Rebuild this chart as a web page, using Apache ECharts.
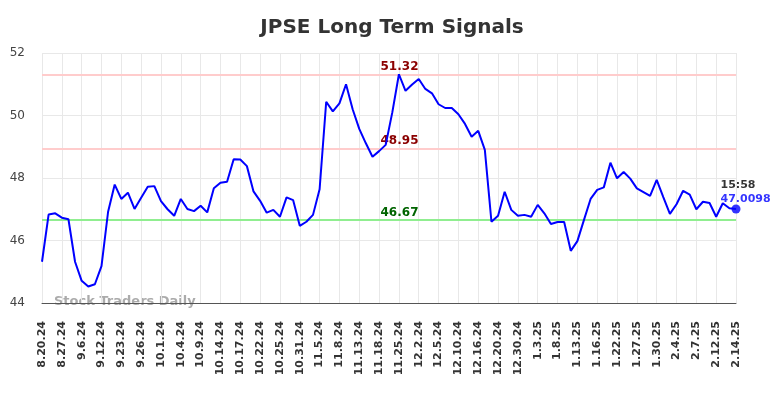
<!DOCTYPE html>
<html>
<head>
<meta charset="utf-8">
<script src="https://cdn.jsdelivr.net/npm/echarts@6/dist/echarts.min.js"></script>
<style>
    html, body { margin: 0; padding: 0; background: #fff; }
    #chart { width: 784px; height: 398px; }
</style>
</head>
<body>
<div id="chart"></div>
<script>
// dates (only every third one is shown on the axis)
var dates = [
    '8.20.24', '8.22.24', '8.23.24', '8.27.24', '8.29.24', '9.3.24',
    '9.6.24', '9.9.24', '9.10.24', '9.12.24', '9.16.24', '9.19.24',
    '9.23.24', '9.24.24', '9.25.24', '9.26.24', '9.27.24', '9.30.24',
    '10.1.24', '10.2.24', '10.3.24', '10.4.24', '10.7.24', '10.8.24',
    '10.9.24', '10.10.24', '10.11.24', '10.14.24', '10.15.24', '10.16.24',
    '10.17.24', '10.18.24', '10.21.24', '10.22.24', '10.23.24', '10.24.24',
    '10.25.24', '10.28.24', '10.29.24', '10.31.24', '11.1.24', '11.4.24',
    '11.5.24', '11.6.24', '11.7.24', '11.8.24', '11.11.24', '11.12.24',
    '11.13.24', '11.14.24', '11.15.24', '11.18.24', '11.19.24', '11.21.24',
    '11.25.24', '11.26.24', '11.27.24', '12.2.24', '12.3.24', '12.4.24',
    '12.5.24', '12.6.24', '12.9.24', '12.10.24', '12.11.24', '12.13.24',
    '12.16.24', '12.17.24', '12.19.24', '12.20.24', '12.23.24', '12.27.24',
    '12.30.24', '12.31.24', '1.2.25', '1.3.25', '1.6.25', '1.7.25',
    '1.8.25', '1.9.25', '1.10.25', '1.13.25', '1.14.25', '1.15.25',
    '1.16.25', '1.17.25', '1.21.25', '1.22.25', '1.23.25', '1.24.25',
    '1.27.25', '1.28.25', '1.29.25', '1.30.25', '1.31.25', '2.3.25',
    '2.4.25', '2.5.25', '2.6.25', '2.7.25', '2.10.25', '2.11.25',
    '2.12.25', '2.13.25', '2.13.25 pm', '2.14.25'
];

var prices = [
    45.32, 46.83, 46.87, 46.73, 46.68, 45.32, 44.71, 44.53, 44.60, 45.18,
    46.92, 47.79, 47.33, 47.53, 47.01, 47.37, 47.72, 47.74, 47.26, 47.00,
    46.79, 47.33, 47.01, 46.94, 47.11, 46.90, 47.67, 47.85, 47.88, 48.60,
    48.59, 48.38, 47.57, 47.27, 46.89, 46.98, 46.76, 47.38, 47.29, 46.47,
    46.60, 46.82, 47.64, 50.44, 50.13, 50.39, 51.00, 50.20, 49.57, 49.11,
    48.68, 48.86, 49.06, 50.10, 51.32, 50.79, 50.99, 51.17, 50.85, 50.71,
    50.36, 50.24, 50.24, 50.04, 49.73, 49.32, 49.51, 48.90, 46.60, 46.79,
    47.56, 46.98, 46.79, 46.82, 46.76, 47.14, 46.87, 46.53, 46.59, 46.59,
    45.67, 45.98, 46.66, 47.33, 47.62, 47.70, 48.49, 47.99, 48.19, 47.98,
    47.67, 47.55, 47.43, 47.94, 47.39, 46.85, 47.16, 47.59, 47.47, 47.00,
    47.24, 47.20, 46.76, 47.19, 47.03, 47.0098
];

// signal levels
var upperLevels = [51.32, 48.95];
var lowerLevels = [46.67];

var lastTime = '15:58';

window.onload = function () {
    var myChart = echarts.init(document.getElementById('chart'));
    var font = 'DejaVu Sans';
    var lastIdx = prices.length - 1;

    var levelLines = [];
    upperLevels.forEach(function (v) {
        levelLines.push({
            yAxis: v,
            lineStyle: { color: '#ffcccc', width: 2, type: 'solid' },
            label: { color: '#8b0000' }
        });
    });
    lowerLevels.forEach(function (v) {
        levelLines.push({
            yAxis: v,
            lineStyle: { color: '#90ee90', width: 2, type: 'solid' },
            label: { color: '#006400' }
        });
    });

    var option = {
        animation: false,
        textStyle: { fontFamily: font },
        title: {
            text: 'JPSE Long Term Signals',
            left: 'center',
            top: 13,
            textStyle: { fontFamily: font, fontSize: 20, fontWeight: 'bold', color: '#333' }
        },
        grid: { left: 42, right: 48, top: 53, bottom: 95 },
        graphic: [
            {
                type: 'text',
                left: 54,
                top: 295,
                style: {
                    text: 'Stock Traders Daily',
                    fontFamily: font,
                    fontSize: 13,
                    fontWeight: 'bold',
                    fill: 'rgba(150,150,150,0.8)'
                }
            }
        ],
        xAxis: {
            type: 'category',
            data: dates,
            boundaryGap: false,
            axisLine: { lineStyle: { color: '#555', width: 1 } },
            axisTick: { show: false },
            axisLabel: {
                interval: 2,
                rotate: 90,
                margin: 18,
                fontFamily: font,
                fontSize: 11,
                fontWeight: 'bold',
                color: '#333'
            },
            splitLine: { show: true, interval: 2, lineStyle: { color: '#e8e8e8', width: 1 } }
        },
        yAxis: {
            type: 'value',
            min: 44,
            max: 52,
            interval: 2,
            axisLine: { show: false },
            axisTick: { show: false },
            axisLabel: { fontFamily: font, fontSize: 12, color: '#444', margin: 17 },
            splitLine: { lineStyle: { color: '#e8e8e8', width: 1 } }
        },
        series: [
            {
                name: 'JPSE',
                type: 'line',
                data: prices,
                showSymbol: false,
                lineStyle: { color: '#0000ff', width: 2 },
                z: 3,
                markLine: {
                    silent: true,
                    symbol: 'none',
                    z: 2,
                    label: {
                        position: 'insideMiddleTop',
                        distance: 1,
                        padding: [0, 0, 0, 21],
                        fontFamily: font,
                        fontSize: 12,
                        fontWeight: 'bold',
                        formatter: function (p) { return p.value.toFixed(2); }
                    },
                    data: levelLines
                }
            },
            {
                name: 'last',
                type: 'scatter',
                data: [[lastIdx, prices[lastIdx]]],
                symbol: 'circle',
                symbolSize: 9,
                itemStyle: { color: '#0000ff' },
                z: 4,
                label: {
                    show: true,
                    position: [-11, -26],
                    align: 'left',
                    formatter: function () {
                        return '{t|' + lastTime + '}\n{v|' + prices[lastIdx] + '}';
                    },
                    rich: {
                        t: { fontFamily: font, fontSize: 11, fontWeight: 'bold', color: '#000', lineHeight: 14 },
                        v: { fontFamily: font, fontSize: 11, fontWeight: 'bold', color: '#0000ff', lineHeight: 14 }
                    }
                }
            }
        ]
    };

    myChart.setOption(option);
};
</script>
</body>
</html>
